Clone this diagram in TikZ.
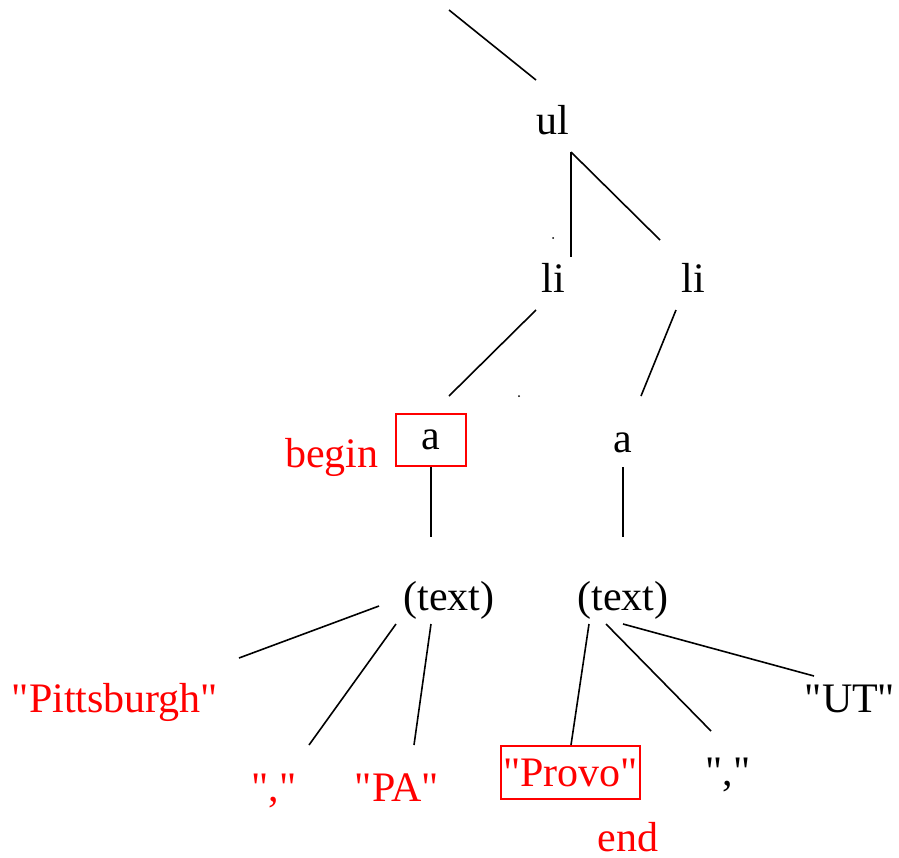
\documentclass[tikz,border=0pt]{standalone}
\usepackage{fontspec}
\setmainfont{Liberation Serif}[Ligatures=TeXOff]
\newcommand\sq{\char34\relax}
\begin{document}
\begin{tikzpicture}[x=1pt,y=-1pt,
  lbl/.style={anchor=base,inner sep=0pt,font=\fontsize{42}{50}\selectfont},
  redlbl/.style={lbl,text=red},
  redbox/.style={draw=red,line width=1.6pt,inner sep=0pt,anchor=center},
  edge/.style={line width=1.6pt,line cap=butt}]
\useasboundingbox (0,0) rectangle (899,857);
% nodes
\node[lbl] (ul) at (553,134) {ul};
\node[lbl] (li1) at (553,292) {li};
\node[lbl] (li2) at (693,292) {li};
\node[redlbl] (begin) at (332,467) {begin};
\node[redbox,minimum width=70pt,minimum height=52pt,font=\fontsize{42}{50}\selectfont] (a1) at (431,440) {a};
\node[lbl] (a2) at (623,452) {a};
\node[lbl] (t1) at (449,610) {(text)};
\node[lbl] (t2) at (623,610) {(text)};
\node[redlbl] (pitt) at (115,712) {\sq Pittsburgh\sq};
\node[redlbl] (comma1) at (274,801) {\sq,\sq};
\node[redlbl] (pa) at (397,801) {\sq PA\sq};
\node[redbox,text=red,minimum width=139pt,minimum height=53pt,font=\fontsize{42}{50}\selectfont] (provo) at (570.5,772.5) {\sq Provo\sq};
\node[lbl] (comma2) at (728,785) {\sq,\sq};
\node[lbl] (ut) at (850,712) {\sq UT\sq};
\node[redlbl] (end) at (628,851) {end};
% connector end points
\coordinate (top) at (449,10);
\coordinate (ulT) at (536,80);
\coordinate (ulB) at (571,152);
\coordinate (li1T) at (571,257);
\coordinate (li2T) at (660,240);
\coordinate (li1B) at (536,310);
\coordinate (a1T) at (449,396);
\coordinate (li2B) at (676,310);
\coordinate (a2T) at (641,396);
\coordinate (a1B) at (431,467);
\coordinate (t1T) at (431,537);
\coordinate (a2B) at (623,467);
\coordinate (t2T) at (623,537);
\coordinate (t1a) at (379,606);
\coordinate (pittT) at (239,658);
\coordinate (t1b) at (396,624);
\coordinate (comma1T) at (309,745);
\coordinate (t1c) at (431,624);
\coordinate (paT) at (414,745);
\coordinate (t2a) at (589,624);
\coordinate (provoT) at (571,745);
\coordinate (t2b) at (606,624);
\coordinate (comma2T) at (711,731);
\coordinate (t2c) at (623,624);
\coordinate (utT) at (814,676);
% edges
\draw[edge] (top) -- (ulT);
\draw[edge] (ulB) -- (li1T);
\draw[edge] (ulB) -- (li2T);
\draw[edge] (li1B) -- (a1T);
\draw[edge] (li2B) -- (a2T);
\draw[edge] (a1B) -- (t1T);
\draw[edge] (a2B) -- (t2T);
\draw[edge] (t1a) -- (pittT);
\draw[edge] (t1b) -- (comma1T);
\draw[edge] (t1c) -- (paT);
\draw[edge] (t2a) -- (provoT);
\draw[edge] (t2b) -- (comma2T);
\draw[edge] (t2c) -- (utT);
% stray dots
\fill (553,238) circle (1pt);
\fill (519,396) circle (1pt);
\end{tikzpicture}
\end{document}
